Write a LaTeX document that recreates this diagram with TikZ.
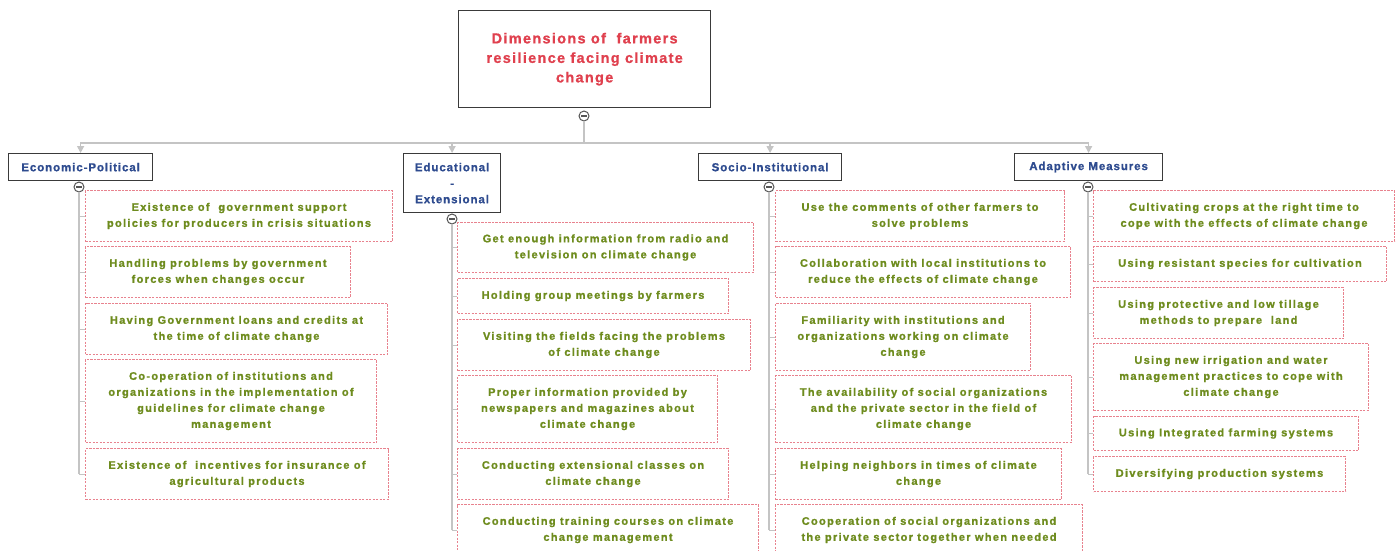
\documentclass[tikz,border=0pt]{standalone}
\usepackage{fontspec}
\setmainfont{Liberation Sans}
\newfontfamily\rootfont{Liberation Sans}[LetterSpace=9, FakeBold=1]
\newfontfamily\catfont{Liberation Sans}[LetterSpace=8, FakeBold=1]
\newfontfamily\itemfont{Liberation Sans}[LetterSpace=12, FakeBold=1.2]
\usetikzlibrary{arrows.meta}
\definecolor{rootred}{HTML}{E0404E}
\definecolor{catblue}{HTML}{2E4B8F}
\definecolor{itemgreen}{HTML}{6E8C1E}
\definecolor{dashpink}{HTML}{E8828E}
\definecolor{linegray}{HTML}{C4C4C4}
\definecolor{boxline}{HTML}{3A3A3A}
\definecolor{togglegray}{HTML}{555555}
\begin{document}
\begin{tikzpicture}[x=1pt,y=-1pt,
  rootbox/.style={draw=boxline, line width=1.3pt, fill=white, anchor=north west, inner sep=0pt,
    align=center, text=rootred, font=\rootfont\bfseries\fontsize{14.5}{19.5}\selectfont},
  catbox/.style={draw=boxline, line width=1.2pt, fill=white, anchor=north west, inner sep=0pt,
    align=center, text=catblue, font=\catfont\bfseries\fontsize{11.5}{16}\selectfont},
  itembox/.style={draw=dashpink, dash pattern=on 2.2pt off 1.3pt, line width=1pt, fill=white,
    anchor=north west, inner sep=0pt, align=center, text=itemgreen,
    font=\itemfont\bfseries\fontsize{11}{16}\selectfont},
  toggle/.style={circle, draw=togglegray, line width=1pt, fill=white, minimum size=10pt, inner sep=0pt,
    path picture={\draw[togglegray, line width=1.4pt]
      ([xshift=2.2pt]path picture bounding box.west) -- ([xshift=-2.2pt]path picture bounding box.east);}},
  bus/.style={draw=linegray, line width=1.3pt},
  feed/.style={bus, -{Triangle[width=7pt,length=7pt]}},
  tick/.style={draw=linegray, line width=1pt}
]
\clip (0,0) rectangle (1400,550);
\fill[white] (0,0) rectangle (1400,550);

% root and its toggle
\node[rootbox, minimum width=252pt, minimum height=97pt] (root) at (458,10)
  {Dimensions of\ \ farmers\\resilience facing climate\\change};
\node[toggle] (rootT) at (584,116) {};

% the four dimensions
\node[catbox, minimum width=144pt, minimum height=27pt] (eco) at (8,153) {Economic-Political};
\node[catbox, minimum width=97pt, minimum height=59pt] (edu) at (403,153) {Educational\\-\\Extensional};
\node[catbox, minimum width=143pt, minimum height=27pt] (soc) at (698,153) {Socio-Institutional};
\node[catbox, minimum width=148pt, minimum height=27pt] (ada) at (1014,153) {Adaptive Measures};

\coordinate (busy) at (584,143);
\draw[bus] (rootT.south) -- (rootT.south |- busy);
\foreach \c in {eco,edu,soc,ada} \draw[feed] (busy) -| (\c.north);

\node[toggle] (ecoT) at (79,187) {};
\node[toggle] (eduT) at (452,219) {};
\node[toggle] (socT) at (769,187) {};
\node[toggle] (adaT) at (1088,187) {};

% Economic-Political
\node[itembox, minimum width=307pt, minimum height=51pt] (e1) at (85,190)
  {Existence of\ \ government support\\policies for producers in crisis situations};
\node[itembox, minimum width=265pt, minimum height=51pt] (e2) at (85,246)
  {Handling problems by government\\forces when changes occur};
\node[itembox, minimum width=302pt, minimum height=51pt] (e3) at (85,303)
  {Having Government loans and credits at\\the time of climate change};
\node[itembox, minimum width=291pt, minimum height=83pt] (e4) at (85,359)
  {Co-operation of institutions and\\organizations in the implementation of\\guidelines for climate change\\management};
\node[itembox, minimum width=303pt, minimum height=51pt] (e5) at (85,448)
  {Existence of\ \ incentives for insurance of\\agricultural products};

% Educational - Extensional
\node[itembox, minimum width=296pt, minimum height=50pt] (d1) at (457,222)
  {Get enough information from radio and\\television on climate change};
\node[itembox, minimum width=271pt, minimum height=35pt] (d2) at (457,278)
  {Holding group meetings by farmers};
\node[itembox, minimum width=293pt, minimum height=51pt] (d3) at (457,319)
  {Visiting the fields facing the problems\\of climate change};
\node[itembox, minimum width=260pt, minimum height=67pt] (d4) at (457,375)
  {Proper information provided by\\newspapers and magazines about\\climate change};
\node[itembox, minimum width=271pt, minimum height=51pt] (d5) at (457,448)
  {Conducting extensional classes on\\climate change};
\node[itembox, minimum width=301pt, minimum height=51pt] (d6) at (457,504)
  {Conducting training courses on climate\\change management};

% Socio-Institutional
\node[itembox, minimum width=289pt, minimum height=51pt] (s1) at (775,190)
  {Use the comments of other farmers to\\solve problems};
\node[itembox, minimum width=295pt, minimum height=51pt] (s2) at (775,246)
  {Collaboration with local institutions to\\reduce the effects of climate change};
\node[itembox, minimum width=255pt, minimum height=67pt] (s3) at (775,303)
  {Familiarity with institutions and\\organizations working on climate\\change};
\node[itembox, minimum width=296pt, minimum height=67pt] (s4) at (775,375)
  {The availability of social organizations\\and the private sector in the field of\\climate change};
\node[itembox, minimum width=286pt, minimum height=51pt] (s5) at (775,448)
  {Helping neighbors in times of climate\\change};
\node[itembox, minimum width=307pt, minimum height=51pt] (s6) at (775,504)
  {Cooperation of social organizations and\\the private sector together when needed};

% Adaptive Measures
\node[itembox, minimum width=301pt, minimum height=51pt] (a1) at (1093,190)
  {Cultivating crops at the right time to\\cope with the effects of climate change};
\node[itembox, minimum width=293pt, minimum height=35pt] (a2) at (1093,246)
  {Using resistant species for cultivation};
\node[itembox, minimum width=250pt, minimum height=51pt] (a3) at (1093,287)
  {Using protective and low tillage\\methods to prepare\ \ land};
\node[itembox, minimum width=275pt, minimum height=67pt] (a4) at (1093,343)
  {Using new irrigation and water\\management practices to cope with\\climate change};
\node[itembox, minimum width=265pt, minimum height=34pt] (a5) at (1093,416)
  {Using Integrated farming systems};
\node[itembox, minimum width=252pt, minimum height=35pt] (a6) at (1093,456)
  {Diversifying production systems};

% child rails with their ticks
\draw[bus] (ecoT.south) -- (ecoT.south |- e5.west);
\foreach \n in {e1,e2,e3,e4,e5} \draw[tick] (ecoT.south |- \n.west) -- (\n.west);
\draw[bus] (eduT.south) -- (eduT.south |- d6.west);
\foreach \n in {d1,d2,d3,d4,d5,d6} \draw[tick] (eduT.south |- \n.west) -- (\n.west);
\draw[bus] (socT.south) -- (socT.south |- s6.west);
\foreach \n in {s1,s2,s3,s4,s5,s6} \draw[tick] (socT.south |- \n.west) -- (\n.west);
\draw[bus] (adaT.south) -- (adaT.south |- a6.west);
\foreach \n in {a1,a2,a3,a4,a5,a6} \draw[tick] (adaT.south |- \n.west) -- (\n.west);
\end{tikzpicture}
\end{document}
